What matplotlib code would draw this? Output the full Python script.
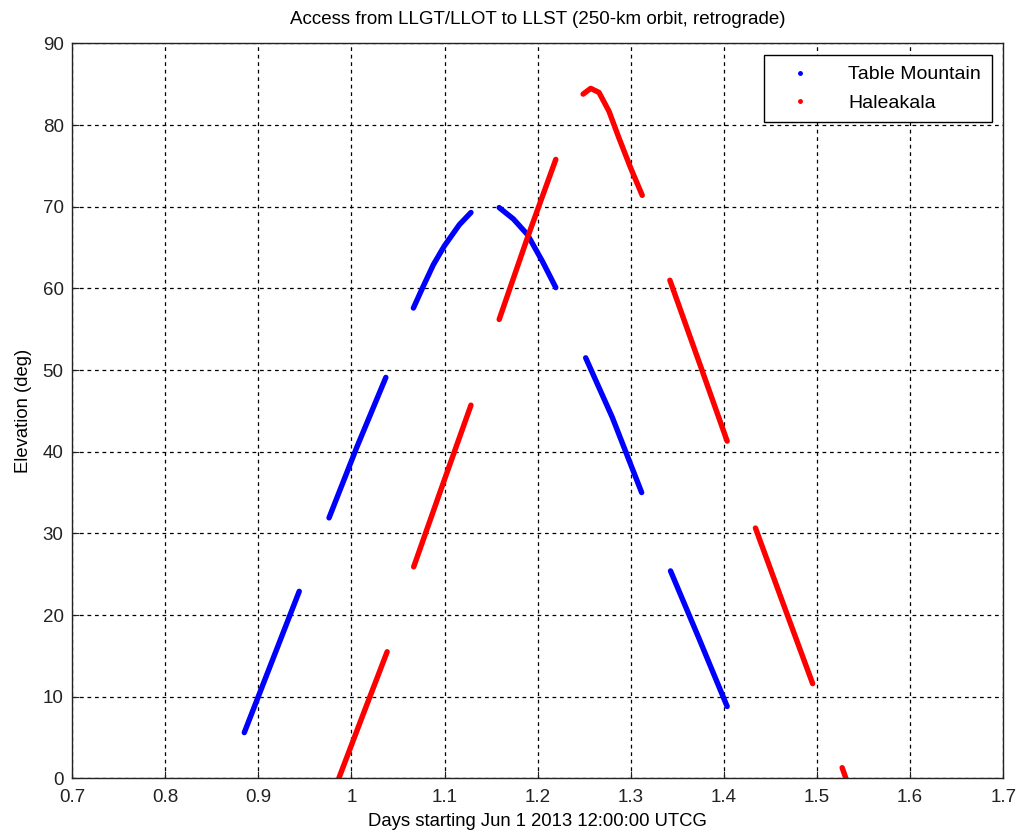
import matplotlib.pyplot as plt
from matplotlib.lines import Line2D

plt.rcParams['font.family'] = ['Liberation Sans', 'DejaVu Sans']

# access passes: (days, elevation deg)
table_x = [
    [0.885, 0.915, 0.944],
    [0.976, 1.006, 1.037],
    [1.0666, 1.0765, 1.088, 1.0998, 1.1159, 1.1284],
    [1.1587, 1.174, 1.189, 1.2052, 1.2195],
    [1.2516, 1.2802, 1.3117],
    [1.3427, 1.373, 1.4035],
]
table_y = [
    [5.6, 14.4, 22.9],
    [31.9, 40.6, 49.1],
    [57.6, 60.1, 62.9, 65.2, 67.8, 69.3],
    [69.9, 68.5, 66.6, 63.3, 60.1],
    [51.5, 44.2, 35.0],
    [25.4, 17.2, 8.8],
]
hale_x = [
    [0.9865, 1.0125, 1.0384],
    [1.0669, 1.0975, 1.1284],
    [1.1587, 1.189, 1.2195],
    [1.2488, 1.257, 1.2659, 1.2766, 1.2874, 1.2999, 1.3123],
    [1.342, 1.373, 1.4035],
    [1.4339, 1.4646, 1.4953],
    [1.527, 1.531],
]
hale_y = [
    [0.0, 7.8, 15.5],
    [25.9, 35.8, 45.7],
    [56.2, 66.2, 75.8],
    [83.8, 84.5, 84.0, 81.7, 78.4, 74.75, 71.4],
    [61.0, 51.1, 41.3],
    [30.65, 21.1, 11.6],
    [1.3, 0.0],
]

fig = plt.figure(figsize=(10.2, 8.36), dpi=100)
ax = fig.add_axes([0.0706, 0.069, 0.913, 0.879])

for xs, ys in zip(table_x, table_y):
    ax.plot(xs, ys, '-', color='#0000ff', lw=3.9, solid_capstyle='round', solid_joinstyle='round')
for xs, ys in zip(hale_x, hale_y):
    ax.plot(xs, ys, '-', color='#ff0000', lw=3.9, solid_capstyle='round', solid_joinstyle='round')

ax.set_xlim(0.7, 1.7)
ax.set_ylim(0, 90)
ax.set_xticks([0.7 + 0.1 * i for i in range(11)])
ax.set_xticklabels(['0.7', '0.8', '0.9', '1', '1.1', '1.2', '1.3', '1.4', '1.5', '1.6', '1.7'])
ax.set_yticks(range(0, 91, 10))
ax.tick_params(direction='in', length=5, labelsize=13.5, colors='#222222')
ax.tick_params(axis='x', pad=8)
ax.tick_params(axis='y', pad=6)
ax.grid(True, color='black', linestyle=(0, (3, 3)), linewidth=0.9)
for s in ax.spines.values():
    s.set_linewidth(1.0)
    s.set_color('#222222')

ax.set_xlabel('Days starting Jun 1 2013 12:00:00 UTCG', fontsize=13.3, labelpad=5)
ax.set_ylabel('Elevation (deg)', fontsize=13.3, labelpad=8)
ax.set_title('Access from LLGT/LLOT to LLST (250-km orbit, retrograde)', fontsize=13.5, pad=14)

handles = [Line2D([], [], ls='none', marker='.', ms=5, color='#0000ff'),
           Line2D([], [], ls='none', marker='.', ms=5, color='#ff0000')]
leg = ax.legend(handles, ['Table Mountain', 'Haleakala'], loc='upper right',
                fontsize=14, fancybox=False, framealpha=1, edgecolor='black',
                borderaxespad=0.6, handlelength=2.6, handletextpad=1.2,
                borderpad=0.55, labelspacing=0.55)
leg.get_frame().set_linewidth(1.0)

fig.savefig('out.png', dpi=100)
